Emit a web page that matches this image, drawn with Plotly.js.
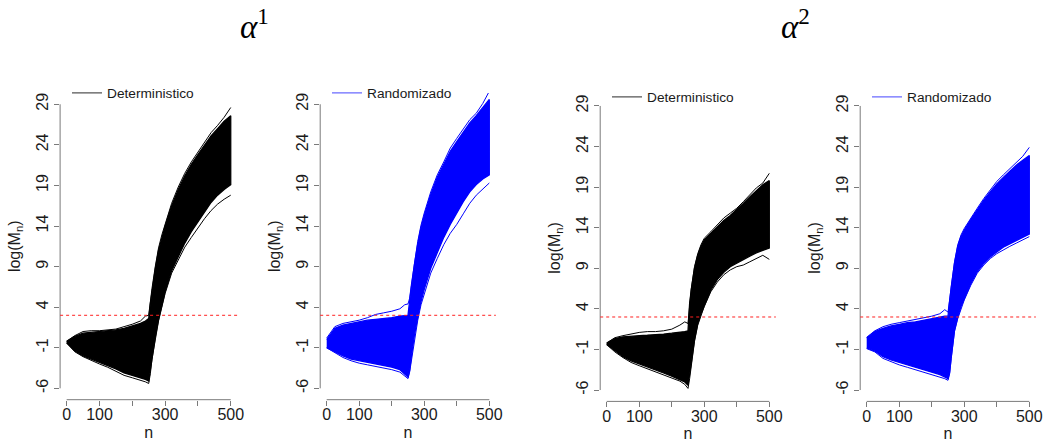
<!DOCTYPE html>
<html>
<head>
<meta charset="utf-8">
<script src="https://cdn.plot.ly/plotly-3.0.1.min.js"></script>
<style>
  html, body { margin: 0; padding: 0; background: #ffffff; }
  #chart { width: 1045px; height: 446px; }
</style>
</head>
<body>
<div id="chart"></div>
<script>
// ---- shared axes data ----
const nGrid = [0, 25, 50, 75, 100, 125, 150, 175, 200, 225, 240, 250, 255, 260, 270, 280, 290, 300, 320, 340, 360, 380, 400, 420, 440, 460, 480, 500];
const xTickLabels = [0, 100, 300, 500];
const xMinorTicks = [200, 400];
const yTicks = [-6, -1, 4, 9, 14, 19, 24, 29];
const refLevel = 3;
const panelTitles = ['α', 'α'];
const panelTitleSup = ['1', '2'];
const seriesNames = ['Deterministico', 'Randomizado', 'Deterministico', 'Randomizado'];

// ---- alpha^1, Deterministico: envelope of the simulated paths ----
const det1High  = [-0.2, 0.5, 1.0, 1.1, 1.1, 1.2, 1.3, 1.6, 1.9, 2.3, 2.9, 3.0, 4.7, 6.3, 9.0, 11.3, 12.9, 14.3, 16.8, 18.8, 20.5, 21.9, 23.1, 24.3, 25.5, 26.4, 27.4, 28.6];
const det1Upper = [-0.2, 0.4, 0.8, 0.9, 1.0, 1.1, 1.2, 1.4, 1.7, 2.0, 2.3, 2.6, 4.4, 6.0, 8.7, 11.0, 12.6, 14.0, 16.5, 18.5, 20.2, 21.6, 22.8, 24.0, 25.1, 26.0, 26.9, 27.6];
const det1Lower = [-0.4, -1.4, -2.0, -2.4, -2.8, -3.2, -3.6, -4.1, -4.4, -4.7, -4.9, -5.1, -4.0, -2.2, 0.3, 2.5, 4.2, 5.9, 8.5, 10.3, 11.9, 13.3, 14.6, 15.7, 16.9, 17.8, 18.5, 19.1];
const det1Low   = [-0.4, -1.5, -2.1, -2.6, -3.0, -3.4, -3.9, -4.4, -4.7, -5.0, -5.2, -5.4, -4.2, -2.4, 0.2, 2.3, 4.0, 5.7, 8.2, 9.9, 11.4, 12.6, 13.8, 14.9, 15.9, 16.7, 17.3, 17.8];

// ---- alpha^1, Randomizado ----
const rnd1High  = [0.2, 1.6, 2.0, 2.2, 2.4, 2.7, 3.1, 3.3, 3.5, 3.8, 4.3, 4.4, 5.1, 6.7, 9.6, 12.1, 14.1, 15.6, 18.2, 20.3, 21.9, 23.6, 24.8, 26.0, 27.1, 27.9, 29.1, 30.6];
const rnd1Upper = [0.0, 1.4, 1.8, 2.0, 2.2, 2.4, 2.5, 2.6, 2.7, 2.9, 3.0, 3.0, 4.8, 6.4, 9.3, 11.8, 13.8, 15.3, 17.9, 20.0, 21.6, 23.2, 24.4, 25.6, 26.7, 27.6, 28.6, 29.6];
const rnd1Lower = [-1.0, -1.5, -2.0, -2.4, -2.6, -2.8, -3.0, -3.2, -3.4, -3.7, -4.2, -4.6, -3.8, -2.2, 0.6, 2.8, 4.7, 6.2, 8.8, 10.8, 12.6, 14.2, 15.6, 17.0, 18.2, 19.1, 19.8, 20.3];
const rnd1Low   = [-1.0, -1.6, -2.2, -2.6, -2.9, -3.1, -3.3, -3.5, -3.7, -4.0, -4.5, -4.8, -4.0, -2.6, 0.2, 2.4, 4.3, 5.7, 8.2, 10.0, 11.7, 13.1, 14.2, 15.5, 16.8, 17.8, 18.6, 19.3];

// ---- alpha^2, Deterministico ----
const det2High  = [-0.2, 0.45, 0.7, 0.9, 1.1, 1.2, 1.2, 1.3, 1.5, 2.0, 2.4, 2.2, 4.9, 6.5, 9.2, 10.8, 11.9, 12.7, 13.5, 14.3, 15.2, 15.8, 16.4, 17.2, 18.0, 18.9, 19.5, 20.7];
const det2Upper = [-0.2, 0.35, 0.55, 0.65, 0.7, 0.75, 0.8, 0.9, 1.0, 1.1, 1.2, 1.3, 4.7, 6.3, 9.0, 10.6, 11.7, 12.5, 13.3, 14.1, 14.9, 15.5, 16.2, 17.0, 17.8, 18.6, 19.3, 19.8];
const det2Lower = [-0.4, -1.2, -1.9, -2.4, -2.8, -3.2, -3.5, -3.9, -4.3, -4.7, -5.0, -5.4, -4.4, -2.7, 0.2, 2.2, 3.4, 4.5, 6.3, 7.6, 8.5, 9.2, 9.7, 10.1, 10.5, 10.9, 11.2, 11.5];
const det2Low   = [-0.4, -1.3, -2.0, -2.6, -3.0, -3.4, -3.7, -4.1, -4.5, -4.9, -5.3, -5.8, -4.6, -2.9, 0.0, 2.0, 3.2, 4.3, 6.1, 7.3, 8.2, 8.8, 9.2, 9.4, 9.8, 10.2, 10.6, 10.1];

// ---- alpha^2, Randomizado ----
const rnd2High  = [0.5, 1.3, 1.8, 2.1, 2.3, 2.5, 2.7, 2.9, 3.1, 3.4, 3.9, 3.6, 5.3, 6.9, 9.8, 11.9, 13.1, 13.9, 15.2, 16.4, 17.6, 18.6, 19.7, 20.5, 21.3, 22.1, 22.8, 23.9];
const rnd2Upper = [0.4, 1.2, 1.6, 1.9, 2.1, 2.3, 2.4, 2.6, 2.8, 3.0, 3.1, 3.1, 5.1, 6.7, 9.6, 11.7, 12.9, 13.7, 15.0, 16.2, 17.4, 18.4, 19.4, 20.2, 21.0, 21.7, 22.3, 22.9];
const rnd2Lower = [-0.8, -1.2, -1.9, -2.3, -2.6, -2.9, -3.2, -3.5, -3.8, -4.1, -4.4, -4.6, -3.8, -1.9, 1.4, 3.0, 4.3, 5.3, 7.1, 8.6, 9.6, 10.4, 11.0, 11.6, 12.0, 12.4, 12.8, 13.2];
const rnd2Low   = [-0.9, -1.3, -2.1, -2.5, -2.9, -3.2, -3.5, -3.8, -4.1, -4.4, -4.6, -4.8, -4.0, -2.1, 1.2, 2.8, 4.1, 5.1, 6.9, 8.4, 9.4, 10.2, 10.8, 11.3, 11.7, 12.1, 12.5, 12.9];

const seriesColors = ['#000000', '#0000ff', '#000000', '#0000ff'];
const legendLineColors = ['#555555', '#6a6aff', '#555555', '#6a6aff'];

const panels = [
  { high: det1High, upper: det1Upper, lower: det1Lower, low: det1Low },
  { high: rnd1High, upper: rnd1Upper, lower: rnd1Lower, low: rnd1Low },
  { high: det2High, upper: det2Upper, lower: det2Lower, low: det2Low },
  { high: rnd2High, upper: rnd2Upper, lower: rnd2Lower, low: rnd2Low }
];

// ---- layout geometry (pixels of a 1045 x 446 page) ----
const W = 1045, H = 446;
const xDomPx = [[60.1, 237.3], [320.2, 495.8], [600.2, 775.8], [860.2, 1035.8]];
const yDomPx = [[399.7, 92.9], [399.7, 92.9], [401.4, 94.6], [401.4, 94.6]];
const legendPos = [[67, 93], [327, 93], [607, 97], [867, 97]];
const titlePos = [[254, 24], [795, 24]];

const FONT = 'Liberation Sans, Arial, Helvetica, sans-serif';
const AXCOL = '#7a7a7a';
const TXTCOL = '#1a1a1a';

const traces = [];
const shapes = [];
const layout = {
  width: W, height: H,
  margin: { l: 0, r: 0, t: 0, b: 0, pad: 0 },
  paper_bgcolor: '#ffffff', plot_bgcolor: '#ffffff',
  showlegend: true,
  font: { family: FONT, color: TXTCOL },
  annotations: []
};

panels.forEach((p, i) => {
  const s = i === 0 ? '' : String(i + 1);
  const xa = 'x' + s, ya = 'y' + s;
  const legId = 'legend' + s;
  const col = seriesColors[i];
  const revN = nGrid.slice().reverse();

  // dense bundle of paths
  traces.push({
    type: 'scatter', mode: 'lines',
    x: nGrid.concat(revN),
    y: p.upper.concat(p.lower.slice().reverse()),
    fill: 'toself', fillcolor: col,
    line: { color: col, width: 1.3 },
    showlegend: false, hoverinfo: 'skip',
    xaxis: xa, yaxis: ya
  });
  // outermost upper paths
  traces.push({
    type: 'scatter', mode: 'lines',
    x: nGrid, y: p.high,
    line: { color: col, width: 1 },
    showlegend: false, hoverinfo: 'skip',
    xaxis: xa, yaxis: ya
  });
  // outermost lower paths
  traces.push({
    type: 'scatter', mode: 'lines',
    x: nGrid, y: p.low,
    line: { color: col, width: 1 },
    showlegend: false, hoverinfo: 'skip',
    xaxis: xa, yaxis: ya
  });
  // legend entry
  traces.push({
    type: 'scatter', mode: 'lines',
    x: [null], y: [null],
    line: { color: legendLineColors[i], width: 1.2 },
    name: seriesNames[i], legend: legId,
    showlegend: true, hoverinfo: 'skip',
    xaxis: xa, yaxis: ya
  });

  const xd = xDomPx[i], yd = yDomPx[i];
  layout['xaxis' + s] = {
    domain: [xd[0] / W, xd[1] / W],
    range: [-20, 520],
    anchor: ya,
    tickmode: 'array', tickvals: xTickLabels, ticktext: xTickLabels.map(String),
    ticks: 'outside', ticklen: 5, tickwidth: 1, tickcolor: AXCOL,
    ticklabelstandoff: -5,
    minor: { tickmode: 'array', tickvals: xMinorTicks, ticks: 'outside', ticklen: 5, tickwidth: 1, tickcolor: AXCOL, showgrid: false },
    showline: false, showgrid: false, zeroline: false,
    tickfont: { family: FONT, size: 16, color: TXTCOL },
    title: { text: 'n', font: { family: FONT, size: 16, color: TXTCOL }, standoff: 4 },
    fixedrange: true
  };
  layout['yaxis' + s] = {
    domain: [(H - yd[0]) / H, (H - yd[1]) / H],
    range: [-7.4, 30.4],
    anchor: xa,
    tickmode: 'array', tickvals: yTicks, ticktext: yTicks.map(String),
    tickangle: -90,
    ticks: 'outside', ticklen: 5, tickwidth: 1, tickcolor: AXCOL,
    showline: false, showgrid: false, zeroline: false,
    tickfont: { family: FONT, size: 16, color: TXTCOL },
    title: { text: 'log(M<sub>n</sub>)', font: { family: FONT, size: 16, color: TXTCOL }, standoff: 9 },
    fixedrange: true
  };

  // axis lines spanning first..last tick (R style)
  const allX = xTickLabels.concat(xMinorTicks);
  shapes.push({
    type: 'line', xref: xa, yref: ya + ' domain',
    x0: Math.min.apply(null, allX), x1: Math.max.apply(null, allX), y0: 0, y1: 0,
    line: { color: AXCOL, width: 1 }
  });
  shapes.push({
    type: 'line', xref: xa + ' domain', yref: ya,
    x0: 0, x1: 0, y0: yTicks[0], y1: yTicks[yTicks.length - 1],
    line: { color: AXCOL, width: 1 }
  });
  // red dotted reference level
  shapes.push({
    type: 'line', xref: xa + ' domain', yref: ya,
    x0: 0, x1: 1, y0: refLevel, y1: refLevel,
    line: { color: '#ff2020', width: 1, dash: 'dot' }
  });

  layout[legId] = {
    x: legendPos[i][0] / W, y: (H - legendPos[i][1]) / H,
    xanchor: 'left', yanchor: 'middle',
    bgcolor: 'rgba(0,0,0,0)', borderwidth: 0,
    font: { family: FONT, size: 13.7, color: TXTCOL },
    itemwidth: 30, tracegroupgap: 0
  };
});

layout.shapes = shapes;

panelTitles.forEach((t, k) => {
  layout.annotations.push({
    xref: 'paper', yref: 'paper',
    x: titlePos[k][0] / W, y: (H - titlePos[k][1]) / H,
    xanchor: 'center', yanchor: 'middle',
    text: '<i>' + t + '</i><sup>' + panelTitleSup[k] + '</sup>',
    showarrow: false,
    font: { family: 'Liberation Serif, Times New Roman, serif', size: 33, color: '#000000' }
  });
});

Plotly.newPlot('chart', traces, layout, { staticPlot: true, displayModeBar: false });
</script>
</body>
</html>
